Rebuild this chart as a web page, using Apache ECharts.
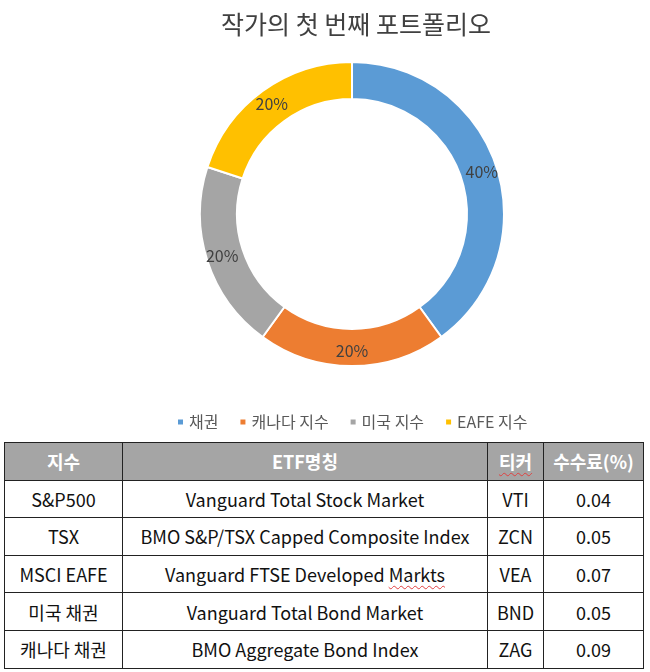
<!DOCTYPE html>
<html>
<head>
<meta charset="utf-8">
<script src="https://cdn.jsdelivr.net/npm/echarts@6/dist/echarts.min.js"></script>
<style>
  html, body { margin: 0; padding: 0; background: #fff; }
  #wrap { position: relative; width: 650px; height: 672px; overflow: hidden; }
  #chart { position: absolute; left: 0; top: 0; width: 650px; height: 440px; }
  #tbl {
    position: absolute; left: 4px; top: 442px; width: 639px;
    border-collapse: collapse; table-layout: fixed;
    font-family: "Noto Sans CJK KR", "Noto Sans", sans-serif; font-size: 18px; color: #111;
  }
  #tbl tr { height: 37.6px; }
  #tbl td, #tbl th {
    border: 1.5px solid #222; text-align: center; padding: 0; line-height: 22px;
    white-space: nowrap; overflow: hidden;
  }
  #tbl th { background: #a5a5a5; color: #fff; font-weight: bold; font-size: 18px; }
  .typo { text-decoration: underline wavy #e04040; text-decoration-thickness: 1px; text-underline-offset: 3px; }
</style>
</head>
<body>
<div id="wrap">
  <div id="chart"></div>
  <table id="tbl"></table>
</div>
<script>
// 도넛 데이터
var names = ['채권', '캐나다 지수', '미국 지수', 'EAFE 지수'];
var weights = [40, 20, 20, 20];
var colors = ['#5b9bd5', '#ed7d31', '#a5a5a5', '#ffc000'];

// 표 데이터
var headers = ['지수', 'ETF명칭', '티커', '수수료(%)'];
var indexNames = ['S&P500', 'TSX', 'MSCI EAFE', '미국 채권', '캐나다 채권'];
var etfNames = ['Vanguard Total Stock Market', 'BMO S&P/TSX Capped Composite Index',
  'Vanguard FTSE Developed Markts', 'Vanguard Total Bond Market', 'BMO Aggregate Bond Index'];
var tickers = ['VTI', 'ZCN', 'VEA', 'BND', 'ZAG'];
var fees = ['0.04', '0.05', '0.07', '0.05', '0.09'];
var colWidths = [118, 365, 56, 100];

function renderChart() {
  var chart = echarts.init(document.getElementById('chart'));
  var font = '"Noto Sans CJK KR", "Noto Sans", sans-serif';
  var option = {
    color: colors,
    title: {
      text: '작가의 첫 번째 포트폴리오',
      left: 351,
      top: 7,
      textAlign: 'center',
      textStyle: { fontFamily: font, fontSize: 25, fontWeight: 'normal', color: '#404040' }
    },
    legend: {
      data: names,
      left: 171,
      top: 409,
      itemWidth: 7,
      itemHeight: 7,
      itemGap: 20,
      icon: 'rect',
      textStyle: { fontFamily: font, fontSize: 16, color: '#595959' }
    },
    series: [{
      type: 'pie',
      center: [352, 214],
      radius: [115, 152],
      startAngle: 90,
      clockwise: true,
      avoidLabelOverlap: false,
      silent: true,
      itemStyle: { borderColor: '#fff', borderWidth: 2 },
      label: {
        show: true,
        position: 'inside',
        formatter: '{c}%',
        fontFamily: font,
        fontSize: 16,
        color: '#404040'
      },
      labelLine: { show: false },
      data: names.map(function (n, i) { return { name: n, value: weights[i] }; })
    }]
  };
  chart.setOption(option);
}

function renderTable() {
  var html = '<colgroup>';
  colWidths.forEach(function (w) { html += '<col style="width:' + w + 'px">'; });
  html += '</colgroup><tr>';
  headers.forEach(function (h) {
    html += '<th>' + (h === '티커' ? '<span class="typo">' + h + '</span>' : h) + '</th>';
  });
  html += '</tr>';
  indexNames.forEach(function (n, i) {
    var etf = etfNames[i].replace('&', '&amp;').replace('Markts', '<span class="typo">Markts</span>');
    html += '<tr>';
    html += '<td>' + n.replace('&', '&amp;') + '</td>';
    html += '<td>' + etf + '</td>';
    html += '<td>' + tickers[i] + '</td>';
    html += '<td>' + fees[i] + '</td>';
    html += '</tr>';
  });
  document.getElementById('tbl').innerHTML = html;
}

renderChart();
renderTable();
</script>
</body>
</html>
